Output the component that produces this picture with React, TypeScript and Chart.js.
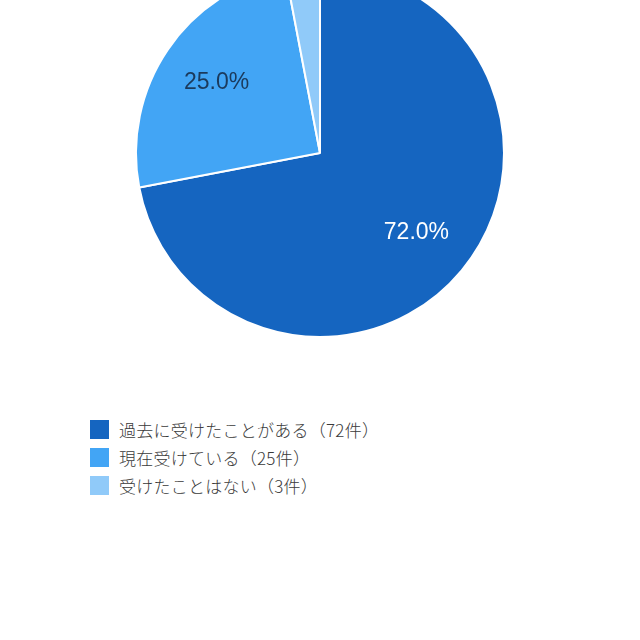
import React, { useEffect, useRef } from "react";
import { Chart, registerables } from "chart.js";

Chart.register(...registerables);

const categories = ["過去に受けたことがある", "現在受けている", "受けたことはない"];
const counts = [72, 25, 3];
const colors = ["#1565C0", "#42A5F5", "#90CAF9"];
const labelColors = ["#ffffff", "#1b3a5c", "#1b3a5c"];
const minLabelPct = 5;

const total = counts.reduce((a, b) => a + b, 0);
const percentLabel = (v: number) => ((v / total) * 100).toFixed(1) + "%";

const sliceLabels = {
  id: "sliceLabels",
  afterDatasetsDraw(chart: any) {
    const { ctx } = chart;
    const meta = chart.getDatasetMeta(0);
    ctx.save();
    ctx.font = '23px "Liberation Sans", "Noto Sans CJK JP", sans-serif';
    ctx.textAlign = "center";
    ctx.textBaseline = "middle";
    meta.data.forEach((arc: any, i: number) => {
      const v = counts[i];
      if ((v / total) * 100 < minLabelPct) return;
      const p = arc.getProps(["x", "y", "startAngle", "endAngle", "outerRadius"], true);
      const mid = (p.startAngle + p.endAngle) / 2;
      const d = p.outerRadius * 0.68;
      ctx.fillStyle = labelColors[i];
      ctx.fillText(percentLabel(v), p.x + Math.cos(mid) * d, p.y + Math.sin(mid) * d);
    });
    ctx.restore();
  },
};

export default function App() {
  const ref = useRef<HTMLCanvasElement | null>(null);
  useEffect(() => {
    if (!ref.current) return;
    const chart = new Chart(ref.current, {
      type: "pie",
      data: {
        labels: categories,
        datasets: [
          {
            data: counts,
            backgroundColor: colors,
            borderColor: "#ffffff",
            borderWidth: 2,
          },
        ],
      },
      options: {
        animation: false,
        responsive: false,
        maintainAspectRatio: false,
        plugins: { legend: { display: false }, tooltip: { enabled: false } },
      },
      plugins: [sliceLabels],
    });
    return () => chart.destroy();
  }, []);

  return (
    <div
      style={{
        position: "fixed",
        left: 0,
        top: 0,
        width: 640,
        height: 640,
        overflow: "hidden",
        background: "#fff",
        fontFamily: '"Noto Sans CJK JP", "Liberation Sans", sans-serif',
      }}
    >
      <canvas
        ref={ref}
        width={640}
        height={370}
        style={{ position: "absolute", left: 0, top: -32, width: 640, height: 370 }}
      />
      <div style={{ position: "absolute", left: 90, top: 415 }}>
        {categories.map((c, i) => (
          <div key={c} style={{ display: "flex", alignItems: "center", height: 28 }}>
            <span
              style={{
                display: "inline-block",
                width: 19,
                height: 19,
                background: colors[i],
                marginRight: 10,
              }}
            />
            <span
              style={{
                fontSize: 17,
                fontWeight: 300,
                letterSpacing: 0.25,
                color: "#3a3a3a",
                whiteSpace: "nowrap",
              }}
            >
              {c}（{counts[i]}件）
            </span>
          </div>
        ))}
      </div>
    </div>
  );
}
